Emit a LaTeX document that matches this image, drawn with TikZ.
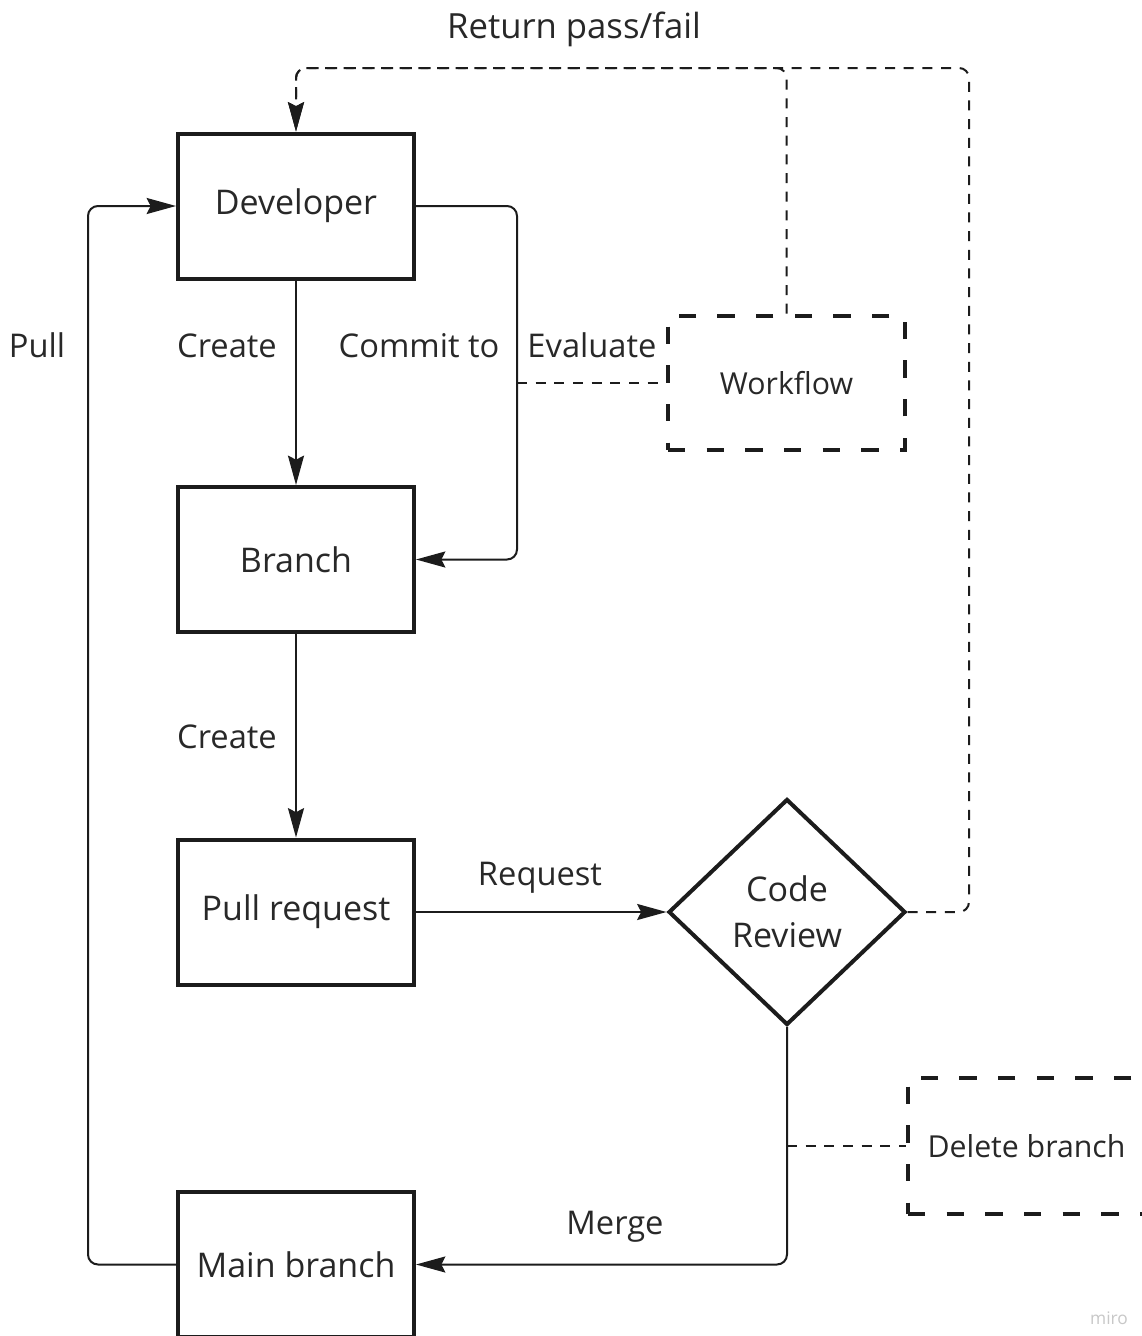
\documentclass[tikz,border=0pt]{standalone}
\usepackage{fontspec}
\setmainfont{Open Sans}
\usetikzlibrary{arrows.meta,shapes.geometric}
\definecolor{ink}{RGB}{28,28,28}
\definecolor{txt}{RGB}{40,40,40}
\definecolor{wm}{RGB}{200,200,200}
\begin{document}
\begin{tikzpicture}[x=0.75pt,y=-0.75pt,
  every node/.style={text=txt,font=\fontsize{25.5}{34.5}\selectfont},
  stepbox/.style={draw=ink,line width=3pt,rectangle,inner sep=0pt,
    minimum width=177pt,minimum height=108.75pt},
  notebox/.style={draw=ink,line width=3.4pt,rectangle,inner sep=0pt,
    dash pattern=on 13pt off 16pt,minimum width=177.75pt,
    font=\fontsize{22.7}{30}\selectfont},
  decision/.style={draw=ink,line width=3pt,diamond,inner sep=0pt,align=center,
    minimum width=177.75pt,minimum height=169.5pt},
  tip/.style={-{Stealth[length=22pt,width=12pt,inset=3pt]}},
  conn/.style={draw=ink,line width=1.5pt,rounded corners=7.5pt,tip},
  thindash/.style={draw=ink,line width=1.5pt,dash pattern=on 7.5pt off 6.5pt,
    rounded corners=7.5pt},
  lbl/.style={inner sep=0pt,text height=0.75em,text depth=0.2em,
    font=\fontsize{24.5}{30}\selectfont}
]
\useasboundingbox (0,0) rectangle (1142,1336);
\fill[white] (0,0) rectangle (1142,1336);
\clip (0,0) rectangle (1142,1336);

% main flow boxes
\node[stepbox] (dev)    at (296,206)    {Developer};
\node[stepbox] (branch) at (296,559.5)  {Branch};
\node[stepbox] (pr)     at (296,912)    {Pull request};
\node[stepbox] (main)   at (296,1264.5) {Main branch};

% decision and side notes
\node[decision] (cr) at (787,912) {Code\\Review};
\node[notebox,minimum height=100.5pt] (wf)  at (786.5,383) {Workflow};
\node[notebox,minimum height=102pt]   (del) at (1026.5,1146) {Delete branch};

% routing points
\coordinate (commitx) at (517,0);
\coordinate (pullx)   at (88,0);
\coordinate (topy)    at (0,68);
\coordinate (rightx)  at (969,0);

% solid connectors
\draw[conn] (dev.south) -- (branch.north);
\draw[conn] (dev.east) -| (commitx |- branch.east) -- (branch.east);
\draw[conn] (branch.south) -- (pr.north);
\draw[conn] (pr.east) -- (cr.west);
\draw[conn] (cr.south) |- (main.east);
\draw[conn] (main.west) -| (pullx |- dev.west) -- (dev.west);

% dashed links
\draw[thindash] (commitx |- wf.west) -- (wf.west);
\draw[thindash] (cr.south |- del.west) -- (del.west);
\draw[thindash,tip]
  (wf.north) -- (wf.north |- topy) -- (dev.north |- topy) -- (dev.north);
\draw[thindash,tip]
  (cr.east) -- (rightx |- cr.east) -- (rightx |- topy) -- (dev.north |- topy) -- (dev.north);

% connector labels
\node[lbl,font=\fontsize{26}{30}\selectfont] (lret) at (574,35) {Return pass/fail};
\node[lbl] (lpull)   at (37,354)   {Pull};
\node[lbl] (lcr1)    at (227,354)  {Create};
\node[lbl] (lcommit) at (419,354)  {Commit to};
\node[lbl] (leval)   at (592,354)  {Evaluate};
\node[lbl] (lcr2)    at (227,745)  {Create};
\node[lbl] (lreq)    at (540,882)  {Request};
\node[lbl] (lmerge)  at (615,1231) {Merge};

% watermark
\node[lbl,text=wm,font=\fontsize{13}{15}\selectfont] (mark) at (1109,1321) {miro};
\end{tikzpicture}
\end{document}
